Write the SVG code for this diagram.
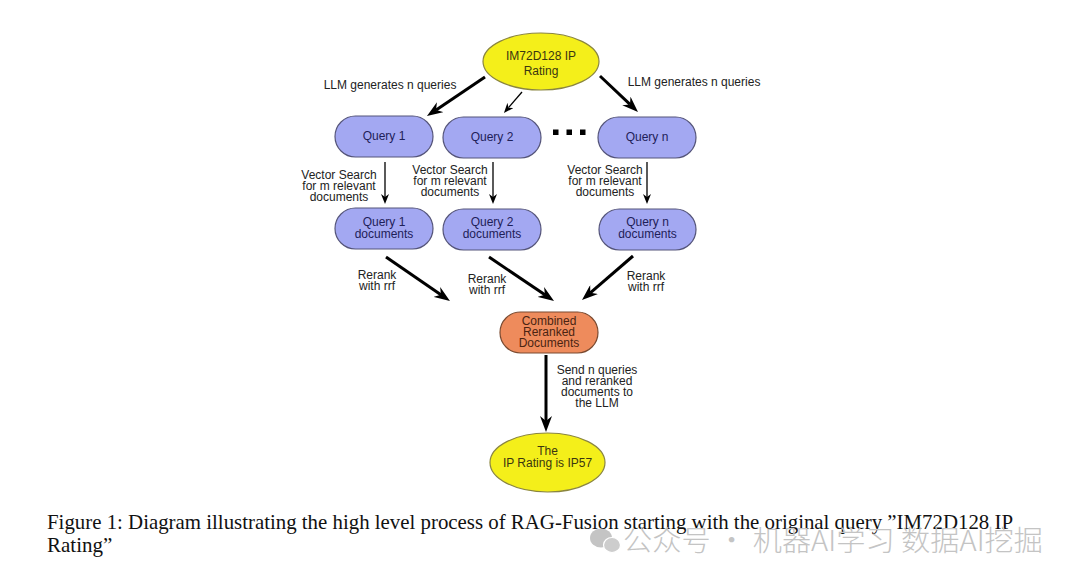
<svg xmlns="http://www.w3.org/2000/svg" width="1080" height="583" viewBox="0 0 1080 583">
<style>
.lbl{font-family:"Liberation Sans",Arial,sans-serif;font-size:12px;fill:#222;text-anchor:middle}
.nt{font-family:"Liberation Sans",Arial,sans-serif;font-size:12px;text-anchor:middle}
.q{fill:#a3a8f2;stroke:#55557a;stroke-width:1.2}
.y{fill:#f4ef1a;stroke:#8a8540;stroke-width:1.2}
.o{fill:#ee8b5c;stroke:#7a4a30;stroke-width:1.2}
.qt{fill:#1e2058}
.yt{fill:#3a3610}
.ot{fill:#4a2412}
.thick{stroke:#000;stroke-width:3;fill:none}
.thin{stroke:#000;stroke-width:1.3;fill:none}
.cap{font-family:"Liberation Serif","Times New Roman",serif;font-size:21px;fill:#111}
.wm{font-family:"Noto Sans CJK SC","Liberation Sans",sans-serif;font-size:28px;font-weight:300;fill:#c4c4c4}
</style>
<defs>
<marker id="ah" markerUnits="userSpaceOnUse" viewBox="0 0 16 12" markerWidth="16" markerHeight="12" refX="5" refY="6" orient="auto">
<path d="M0,0 L16,6 L0,12 L5,6 z" fill="#000"/>
</marker>
<marker id="ahs" markerUnits="userSpaceOnUse" viewBox="0 0 10 8" markerWidth="10" markerHeight="8" refX="3" refY="4" orient="auto">
<path d="M0,0 L10,4 L0,8 L3,4 z" fill="#000"/>
</marker>
</defs>
<rect width="1080" height="583" fill="#fff"/>

<g id="connectors">
<line class="thick" x1="485" y1="77" x2="436.1" y2="109.9" marker-end="url(#ah)"/>
<line class="thin" x1="522" y1="92" x2="508.5" y2="107.7" marker-end="url(#ahs)"/>
<line class="thick" x1="600" y1="76" x2="630" y2="104.4" marker-end="url(#ah)"/>
<line class="thin" x1="385" y1="162" x2="385" y2="197" marker-end="url(#ahs)"/>
<line class="thin" x1="493" y1="162" x2="493" y2="197" marker-end="url(#ahs)"/>
<line class="thin" x1="647" y1="162" x2="647" y2="197" marker-end="url(#ahs)"/>
<line class="thick" x1="386" y1="257" x2="440.9" y2="294.8" marker-end="url(#ah)"/>
<line class="thick" x1="489" y1="257" x2="544.9" y2="294.8" marker-end="url(#ah)"/>
<line class="thick" x1="633" y1="256" x2="590.3" y2="292.8" marker-end="url(#ah)"/>
<line class="thick" x1="546" y1="355" x2="546" y2="421" marker-end="url(#ah)"/>
<text class="lbl" x="390" y="89">LLM generates n queries</text>
<text class="lbl" x="694" y="86">LLM generates n queries</text>
<text class="lbl" x="339" y="179">Vector Search</text>
<text class="lbl" x="339" y="190">for m relevant</text>
<text class="lbl" x="339" y="201">documents</text>
<text class="lbl" x="450" y="174">Vector Search</text>
<text class="lbl" x="450" y="185">for m relevant</text>
<text class="lbl" x="450" y="196">documents</text>
<text class="lbl" x="605" y="174">Vector Search</text>
<text class="lbl" x="605" y="185">for m relevant</text>
<text class="lbl" x="605" y="196">documents</text>
<text class="lbl" x="377" y="279">Rerank</text>
<text class="lbl" x="377" y="290">with rrf</text>
<text class="lbl" x="487" y="283">Rerank</text>
<text class="lbl" x="487" y="294">with rrf</text>
<text class="lbl" x="646" y="280">Rerank</text>
<text class="lbl" x="646" y="291">with rrf</text>
<text class="lbl" x="597" y="374">Send n queries</text>
<text class="lbl" x="597" y="385">and reranked</text>
<text class="lbl" x="597" y="396">documents to</text>
<text class="lbl" x="597" y="407">the LLM</text>
</g>

<g id="query-input">
<ellipse class="y" cx="541" cy="61.5" rx="58" ry="28.5"/>
<text class="nt yt" x="541" y="60">IM72D128 IP</text>
<text class="nt yt" x="541" y="75">Rating</text>
</g>

<g id="query1">
<rect class="q" x="335" y="116" width="98" height="41" rx="20.5"/>
<text class="nt qt" x="384" y="140">Query 1</text>
</g>
<g id="query2">
<rect class="q" x="443" y="117" width="98" height="41" rx="20.5"/>
<text class="nt qt" x="492" y="141">Query 2</text>
</g>
<g id="ellipsis">
<rect x="553" y="129.5" width="5.5" height="5.5" fill="#000"/>
<rect x="566.5" y="129.5" width="5.5" height="5.5" fill="#000"/>
<rect x="580" y="129.5" width="5.5" height="5.5" fill="#000"/>
</g>
<g id="queryn">
<rect class="q" x="598" y="117" width="98" height="41" rx="20.5"/>
<text class="nt qt" x="647" y="141">Query n</text>
</g>

<g id="docs1">
<rect class="q" x="335" y="208" width="98" height="41" rx="20.5"/>
<text class="nt qt" x="384" y="226">Query 1</text>
<text class="nt qt" x="384" y="238">documents</text>
</g>
<g id="docs2">
<rect class="q" x="443" y="209" width="98" height="41" rx="20.5"/>
<text class="nt qt" x="492" y="226">Query 2</text>
<text class="nt qt" x="492" y="238">documents</text>
</g>
<g id="docsn">
<rect class="q" x="599" y="209" width="97" height="41" rx="20.5"/>
<text class="nt qt" x="647.5" y="226">Query n</text>
<text class="nt qt" x="647.5" y="238">documents</text>
</g>

<g id="combined">
<rect class="o" x="500" y="312" width="98" height="41" rx="20.5"/>
<text class="nt ot" x="549" y="325">Combined</text>
<text class="nt ot" x="549" y="336">Reranked</text>
<text class="nt ot" x="549" y="347">Documents</text>
</g>

<g id="answer">
<ellipse class="y" cx="547.5" cy="462.5" rx="57.5" ry="29.5"/>
<text class="nt yt" x="547.5" y="455">The</text>
<text class="nt yt" x="547.5" y="467">IP Rating is IP57</text>
</g>

<text class="cap" x="47" y="529" textLength="966" lengthAdjust="spacingAndGlyphs">Figure 1: Diagram illustrating the high level process of RAG-Fusion starting with the original query ”IM72D128 IP</text>
<text class="cap" x="47" y="552">Rating”</text>

<g id="watermark">
<ellipse cx="601" cy="538" rx="11" ry="9.5" fill="#c4c4c4"/>
<ellipse cx="612" cy="545" rx="8.5" ry="7.5" fill="#cdcdcd" stroke="#fff" stroke-width="1.2"/>
<text class="wm" x="623" y="551" textLength="420" lengthAdjust="spacingAndGlyphs">公众号 · 机器AI学习 数据AI挖掘</text>
</g>
</svg>
